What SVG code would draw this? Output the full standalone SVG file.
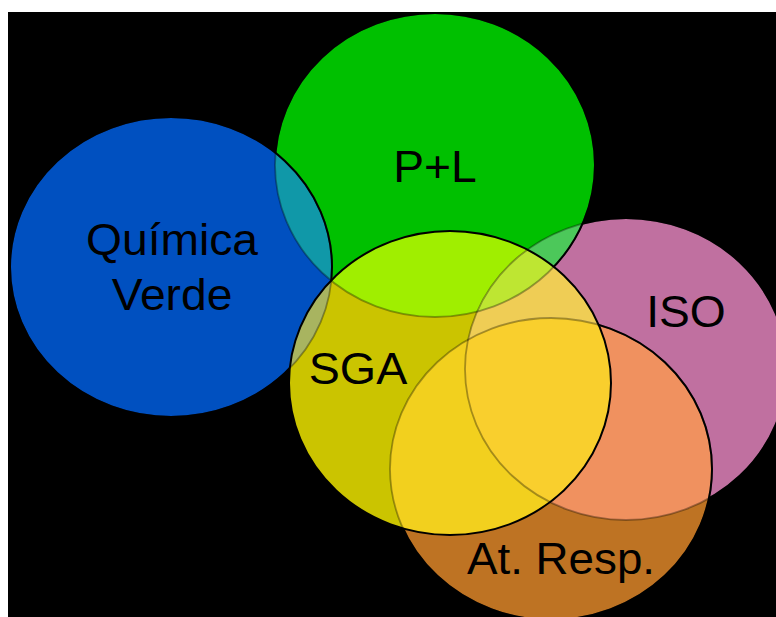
<svg xmlns="http://www.w3.org/2000/svg" xmlns:xlink="http://www.w3.org/1999/xlink" width="776" height="617" viewBox="0 0 776 617">
  <style>
    .t { font-family: "Liberation Sans", Arial, sans-serif; font-size: 44px; fill: #000; text-anchor: middle; }
    .faint { fill: none; stroke: #000; stroke-opacity: 0.33; stroke-width: 1.8; }
    .bold { fill: none; stroke: #000; stroke-width: 2; }
  </style>
  <defs>
    <ellipse id="eI" cx="626" cy="369" rx="161" ry="151"/>
    <ellipse id="eA" cx="551" cy="469" rx="161" ry="151"/>
    <ellipse id="eG" cx="435" cy="165" rx="160" ry="152"/>
    <ellipse id="eB" cx="171" cy="267" rx="161" ry="150"/>
    <ellipse id="eS" cx="450" cy="383" rx="161" ry="152"/>
    <clipPath id="cI"><use xlink:href="#eI"/></clipPath>
    <clipPath id="cA"><use xlink:href="#eA"/></clipPath>
    <clipPath id="cG"><use xlink:href="#eG"/></clipPath>
    <clipPath id="cB"><use xlink:href="#eB"/></clipPath>
    <clipPath id="cS"><use xlink:href="#eS"/></clipPath>
    <mask id="mS" maskUnits="userSpaceOnUse" x="0" y="0" width="776" height="617">
      <rect x="0" y="0" width="776" height="617" fill="#fff"/>
      <use xlink:href="#eS" fill="#000"/>
    </mask>
    <mask id="mBS" maskUnits="userSpaceOnUse" x="0" y="0" width="776" height="617">
      <rect x="0" y="0" width="776" height="617" fill="#fff"/>
      <use xlink:href="#eB" fill="#000"/>
      <use xlink:href="#eS" fill="#000"/>
    </mask>
    <mask id="mAGS" maskUnits="userSpaceOnUse" x="0" y="0" width="776" height="617">
      <rect x="0" y="0" width="776" height="617" fill="#fff"/>
      <use xlink:href="#eA" fill="#000"/>
      <use xlink:href="#eG" fill="#000"/>
      <use xlink:href="#eS" fill="#000"/>
    </mask>
  </defs>
  <rect x="0" y="0" width="776" height="617" fill="#ffffff"/>
  <rect x="8" y="12" width="768" height="605" fill="#000000"/>

  <g id="iso">
    <use xlink:href="#eI" fill="#C070A0"/>
    <text class="t" transform="translate(686,327) scale(1.05,1)">ISO</text>
  </g>
  <g id="at-resp">
    <use xlink:href="#eA" fill="#BE7323"/>
    <text class="t" transform="translate(561,574) scale(1.04,1)">At. Resp.</text>
  </g>
  <g id="pl">
    <use xlink:href="#eG" fill="#00C000"/>
    <text class="t" transform="translate(435,182) scale(1.05,1)">P+L</text>
  </g>
  <g id="quimica-verde">
    <use xlink:href="#eB" fill="#0050C0"/>
    <text class="t" transform="translate(172,255) scale(1.05,1)">Química</text>
    <text class="t" transform="translate(172,310) scale(1.05,1)">Verde</text>
  </g>
  <g id="sga">
    <use xlink:href="#eS" fill="#CBC400"/>
    <text class="t" transform="translate(358,384) scale(1.06,1)">SGA</text>
  </g>

  <g id="overlaps">
    <g clip-path="url(#cB)"><use xlink:href="#eG" fill="#1098A8"/></g>
    <g clip-path="url(#cI)"><use xlink:href="#eG" fill="#4CC85A"/></g>
    <g clip-path="url(#cI)"><use xlink:href="#eA" fill="#F0915F"/></g>
    <g clip-path="url(#cS)"><use xlink:href="#eB" fill="#A8B460"/></g>
    <g clip-path="url(#cS)"><use xlink:href="#eG" fill="#A0EE00"/></g>
    <g clip-path="url(#cS)"><use xlink:href="#eI" fill="#EFCD55"/></g>
    <g clip-path="url(#cS)"><use xlink:href="#eA" fill="#F2D01E"/></g>
    <g clip-path="url(#cS)"><g clip-path="url(#cI)"><use xlink:href="#eG" fill="#BEE632"/></g></g>
    <g clip-path="url(#cS)"><g clip-path="url(#cI)"><use xlink:href="#eA" fill="#F9CF2D"/></g></g>
  </g>

  <g id="outlines">
    <use xlink:href="#eI" class="faint"/>
    <use xlink:href="#eA" class="faint"/>
    <use xlink:href="#eG" class="faint"/>
    <use xlink:href="#eB" class="faint"/>
    <use xlink:href="#eI" class="bold" mask="url(#mAGS)"/>
    <use xlink:href="#eA" class="bold" mask="url(#mS)"/>
    <use xlink:href="#eG" class="bold" mask="url(#mBS)"/>
    <use xlink:href="#eB" class="bold" mask="url(#mS)"/>
    <use xlink:href="#eS" class="bold"/>
  </g>
  <g id="connectors"/>
</svg>
